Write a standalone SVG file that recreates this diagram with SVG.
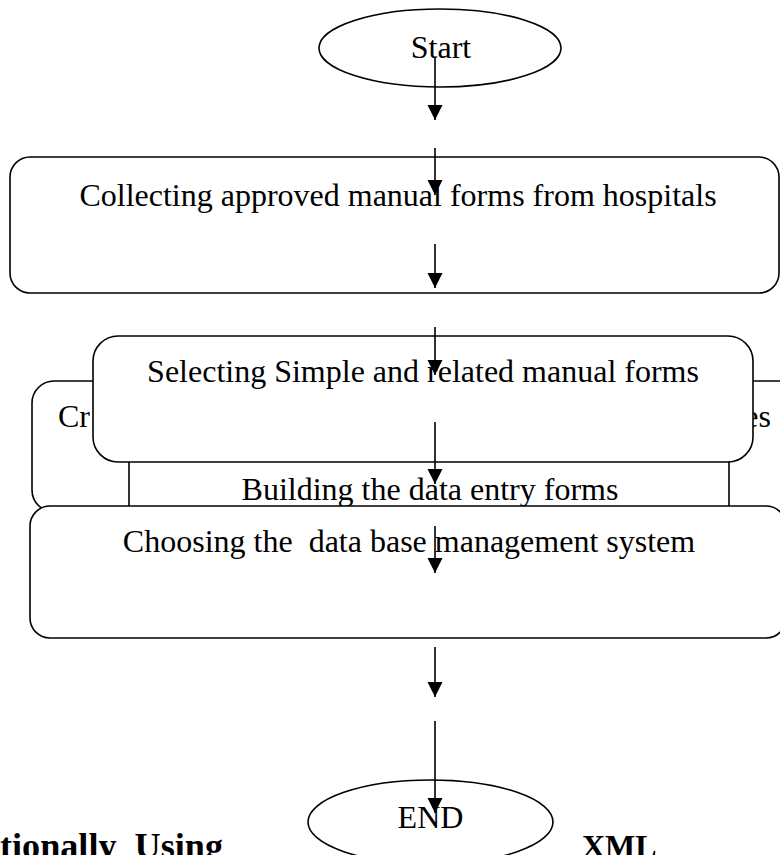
<svg xmlns="http://www.w3.org/2000/svg" width="780" height="855" viewBox="0 0 780 855">
<style>
.shape{fill:#fff;stroke:#000;stroke-width:1.6}
.t{font-family:"Liberation Serif","Times New Roman",serif;font-size:32px;fill:#000}
.b{font-family:"Liberation Serif","Times New Roman",serif;font-weight:bold;fill:#000}
.c{stroke:#000;stroke-width:1.6;fill:none}
</style>
<defs>
<marker id="ah" markerUnits="userSpaceOnUse" markerWidth="16" markerHeight="16" viewBox="0 0 16 16" refX="15" refY="8" orient="auto">
<path d="M0,0.5 L15,8 L0,15.5 Z" fill="#000"/>
</marker>
</defs>
<rect width="780" height="855" fill="#fff"/>
<g id="start">
<ellipse class="shape" cx="440" cy="48" rx="121" ry="39"/>
<text class="t" x="441" y="58" text-anchor="middle">Start</text>
</g>
<g id="collect">
<rect class="shape" x="10" y="157" width="769" height="136" rx="20"/>
<text class="t" x="398" y="206" text-anchor="middle">Collecting approved manual forms from hospitals</text>
</g>
<g id="create">
<rect class="shape" x="32" y="381" width="780" height="131" rx="22"/>
<text class="t" x="58" y="427">Cr</text>
<text class="t" x="771" y="427" text-anchor="end">es</text>
</g>
<g id="build">
<rect class="shape" x="129" y="448" width="600" height="80" rx="15"/>
<text class="t" x="430" y="500" text-anchor="middle">Building the data entry forms</text>
</g>
<g id="select">
<rect class="shape" x="93" y="336" width="660" height="126" rx="25"/>
<text class="t" x="423" y="382" text-anchor="middle">Selecting Simple and related manual forms</text>
</g>
<g id="choose">
<rect class="shape" x="30" y="506" width="756" height="132" rx="20"/>
<text class="t" x="409" y="552" text-anchor="middle" xml:space="preserve">Choosing the  data base management system</text>
</g>
<g id="end">
<ellipse class="shape" cx="430.5" cy="822" rx="122.5" ry="42"/>
<text class="t" x="430.5" y="828" text-anchor="middle">END</text>
</g>
<g id="connectors">
<line class="c" x1="435" y1="57" x2="435" y2="120" marker-end="url(#ah)"/>
<line class="c" x1="435" y1="148" x2="435" y2="195" marker-end="url(#ah)"/>
<line class="c" x1="435" y1="244" x2="435" y2="288" marker-end="url(#ah)"/>
<line class="c" x1="435" y1="327" x2="435" y2="375" marker-end="url(#ah)"/>
<line class="c" x1="435" y1="422" x2="435" y2="484" marker-end="url(#ah)"/>
<line class="c" x1="435" y1="526" x2="435" y2="573" marker-end="url(#ah)"/>
<line class="c" x1="435" y1="647" x2="435" y2="697" marker-end="url(#ah)"/>
<line class="c" x1="435" y1="721" x2="435" y2="813" marker-end="url(#ah)"/>
</g>
<text class="b" x="0" y="858" font-size="35" textLength="223" lengthAdjust="spacingAndGlyphs" xml:space="preserve">tionally  Using</text>
<text class="b" x="582" y="857" font-size="32">XML</text>
</svg>
